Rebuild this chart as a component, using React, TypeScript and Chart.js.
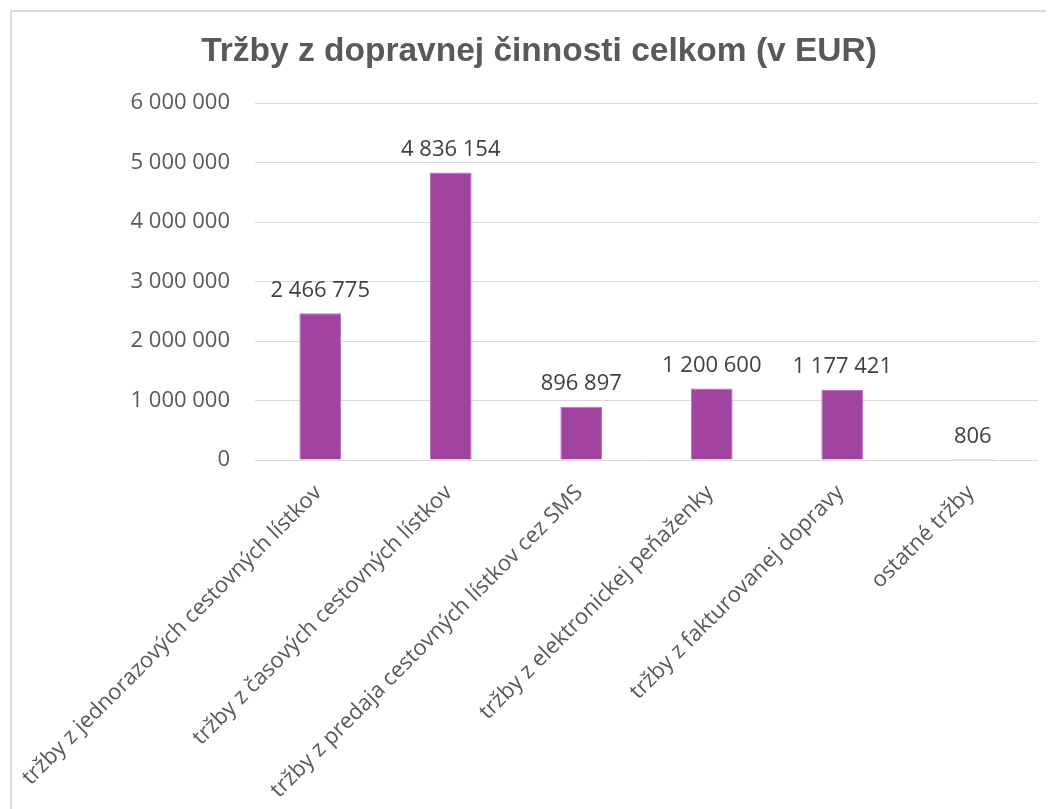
import React, { useEffect, useRef } from "react";
import { Chart, registerables } from "chart.js";

Chart.register(...registerables);

const categories: string[] = [
  "tržby z jednorazových cestovných lístkov",
  "tržby z časových cestovných lístkov",
  "tržby z predaja cestovných lístkov cez SMS",
  "tržby z elektronickej peňaženky",
  "tržby z fakturovanej dopravy",
  "ostatné tržby",
];

const revenues: number[] = [2466775, 4836154, 896897, 1200600, 1177421, 806];

const titleText = "Tržby z dopravnej činnosti celkom (v EUR)";
const yMin = 0;
const yMax = 6000000;
const yStep = 1000000;

const fmt = (v: number) =>
  String(Math.round(v)).replace(/\B(?=(\d{3})+(?!\d))/g, " ");

const valueLabels = {
  id: "valueLabels",
  afterDatasetsDraw(chart: any) {
    const ctx = chart.ctx;
    const meta = chart.getDatasetMeta(0);
    const data = chart.data.datasets[0].data as number[];
    ctx.save();
    ctx.font = "22px 'Open Sans'";
    ctx.fillStyle = "#404040";
    ctx.textAlign = "center";
    ctx.textBaseline = "middle";
    meta.data.forEach((el: any, i: number) => {
      ctx.fillText(fmt(data[i]), el.x, el.y - 23);
    });
    ctx.restore();
  },
};

export default function App() {
  const ref = useRef<HTMLCanvasElement | null>(null);

  useEffect(() => {
    if (!ref.current) return;
    const chart = new Chart(ref.current, {
      type: "bar",
      data: {
        labels: categories,
        datasets: [
          {
            data: revenues,
            backgroundColor: "#A043A1",
            borderColor: "#B96FBA",
            borderWidth: 1,
            barPercentage: 0.32,
            categoryPercentage: 1,
          },
        ],
      },
      plugins: [valueLabels],
      options: {
        animation: false,
        responsive: false,
        maintainAspectRatio: false,
        layout: { padding: { left: 28, right: 16, top: 0, bottom: 0 } },
        plugins: {
          legend: { display: false },
          tooltip: { enabled: false },
          title: {
            display: true,
            text: titleText,
            color: "#595959",
            font: { family: "'Liberation Sans', Arial", size: 33.5, weight: "bold" },
            padding: { top: 20, bottom: 31 },
          },
        },
        scales: {
          x: {
            grid: { display: false },
            border: { display: false },
            ticks: {
              color: "#595959",
              font: { family: "'Open Sans'", size: 22 },
              maxRotation: 45,
              minRotation: 45,
              autoSkip: false,
              padding: 12,
              labelOffset: -2,
            },
            afterFit: (scale: any) => {
              scale.height = 349;
              scale.paddingLeft = 0;
              scale.paddingRight = 0;
            },
          },
          y: {
            min: yMin,
            max: yMax,
            grid: { color: "#D9D9D9", lineWidth: 1, drawTicks: false },
            border: { display: false },
            ticks: {
              stepSize: yStep,
              color: "#595959",
              font: { family: "'Open Sans'", size: 22 },
              padding: 25,
              callback: (v: any) => fmt(Number(v)),
            },
            afterFit: (scale: any) => {
              scale.width = 215;
            },
          },
        },
      },
    } as any);
    return () => chart.destroy();
  }, []);

  return (
    <div
      style={{
        width: 1046,
        height: 801,
        boxSizing: "border-box",
        paddingLeft: 2,
        paddingTop: 2,
        overflow: "hidden",
        background: "#fff",
      }}
    >
      <div
        style={{
          width: "100%",
          height: "100%",
          boxSizing: "border-box",
          borderLeft: "2px solid #D9D9D9",
          borderTop: "2px solid #D9D9D9",
          position: "relative",
        }}
      >
        <canvas ref={ref} width={1042} height={797} style={{ display: "block" }} />
      </div>
    </div>
  );
}
